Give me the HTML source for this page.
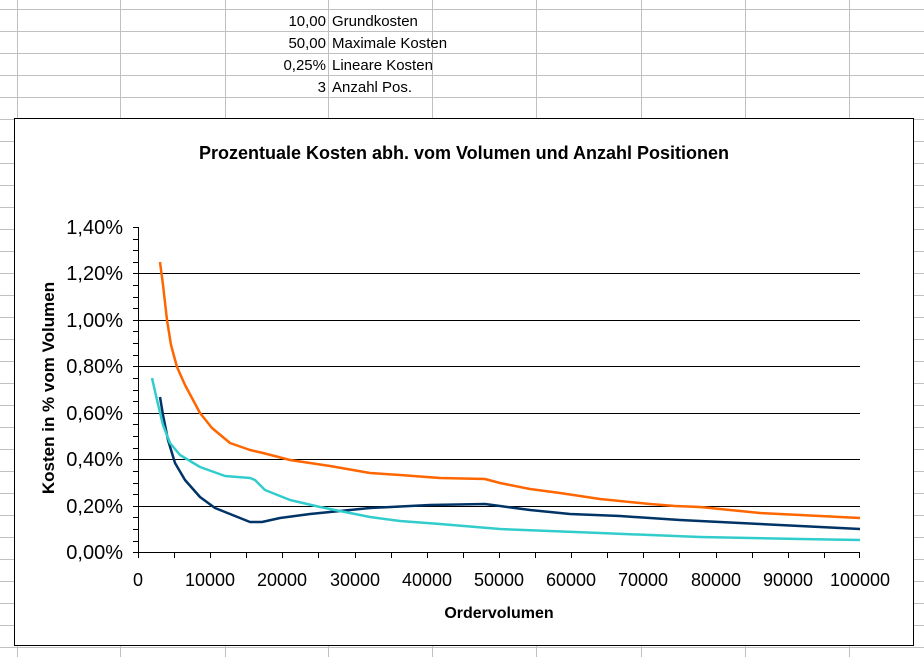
<!DOCTYPE html>
<html><head><meta charset="utf-8"><style>
html,body{margin:0;padding:0;background:#fff;}
svg{display:block;font-family:"Liberation Sans",Arial,sans-serif;}
</style></head><body>
<svg width="924" height="657" viewBox="0 0 924 657" xmlns="http://www.w3.org/2000/svg">
<g stroke="#c0c0c0" stroke-width="1">
<line x1="0" y1="9.5" x2="924" y2="9.5"/><line x1="0" y1="31.5" x2="924" y2="31.5"/>
<line x1="0" y1="53.5" x2="924" y2="53.5"/><line x1="0" y1="75.5" x2="924" y2="75.5"/>
<line x1="0" y1="97.5" x2="924" y2="97.5"/>
<line x1="0" y1="119.5" x2="924" y2="119.5"/><line x1="0" y1="141.5" x2="924" y2="141.5"/>
<line x1="0" y1="163.5" x2="924" y2="163.5"/><line x1="0" y1="185.5" x2="924" y2="185.5"/>
<line x1="0" y1="207.5" x2="924" y2="207.5"/><line x1="0" y1="229.5" x2="924" y2="229.5"/>
<line x1="0" y1="251.5" x2="924" y2="251.5"/><line x1="0" y1="273.5" x2="924" y2="273.5"/>
<line x1="0" y1="295.5" x2="924" y2="295.5"/><line x1="0" y1="317.5" x2="924" y2="317.5"/>
<line x1="0" y1="339.5" x2="924" y2="339.5"/><line x1="0" y1="361.5" x2="924" y2="361.5"/>
<line x1="0" y1="383.5" x2="924" y2="383.5"/><line x1="0" y1="405.5" x2="924" y2="405.5"/>
<line x1="0" y1="427.5" x2="924" y2="427.5"/><line x1="0" y1="449.5" x2="924" y2="449.5"/>
<line x1="0" y1="471.5" x2="924" y2="471.5"/><line x1="0" y1="493.5" x2="924" y2="493.5"/>
<line x1="0" y1="515.5" x2="924" y2="515.5"/><line x1="0" y1="537.5" x2="924" y2="537.5"/>
<line x1="0" y1="559.5" x2="924" y2="559.5"/><line x1="0" y1="581.5" x2="924" y2="581.5"/>
<line x1="0" y1="603.5" x2="924" y2="603.5"/><line x1="0" y1="625.5" x2="924" y2="625.5"/>
<line x1="0" y1="647.5" x2="924" y2="647.5"/>
<line x1="17.5" y1="0" x2="17.5" y2="657"/><line x1="120.5" y1="0" x2="120.5" y2="657"/>
<line x1="225.5" y1="0" x2="225.5" y2="657"/><line x1="328.5" y1="0" x2="328.5" y2="657"/>
<line x1="432.5" y1="0" x2="432.5" y2="657"/><line x1="536.5" y1="0" x2="536.5" y2="657"/>
<line x1="641.5" y1="0" x2="641.5" y2="657"/><line x1="745.5" y1="0" x2="745.5" y2="657"/>
<line x1="849.5" y1="0" x2="849.5" y2="657"/>
</g>
<g font-size="15" fill="#000">
<text x="326" y="26" text-anchor="end">10,00</text><text x="332" y="26">Grundkosten</text>
<text x="326" y="48" text-anchor="end">50,00</text><text x="332" y="48">Maximale Kosten</text>
<text x="326" y="70" text-anchor="end">0,25%</text><text x="332" y="70">Lineare Kosten</text>
<text x="326" y="92" text-anchor="end">3</text><text x="332" y="92">Anzahl Pos.</text>
</g>
<rect x="14.5" y="118.5" width="899" height="527" fill="#fff" stroke="#000" stroke-width="1"/>
<text x="464" y="159" font-size="18" font-weight="bold" text-anchor="middle">Prozentuale Kosten abh. vom Volumen und Anzahl Positionen</text>
<g stroke="#000" stroke-width="1">
<line x1="138" y1="273.5" x2="860" y2="273.5"/><line x1="138" y1="320.5" x2="860" y2="320.5"/>
<line x1="138" y1="366.5" x2="860" y2="366.5"/><line x1="138" y1="413.5" x2="860" y2="413.5"/>
<line x1="138" y1="459.5" x2="860" y2="459.5"/><line x1="138" y1="506.5" x2="860" y2="506.5"/>
<line x1="138.5" y1="227" x2="138.5" y2="552"/><line x1="138" y1="552.5" x2="860" y2="552.5"/>
</g>
<g stroke="#000" stroke-width="1">
<path d="M133 227.5h5M133 239.5h5M133 250.5h5M133 262.5h5M133 273.5h5M133 285.5h5M133 297.5h5M133 308.5h5M133 320.5h5M133 331.5h5M133 343.5h5M133 355.5h5M133 366.5h5M133 378.5h5M133 390.5h5M133 401.5h5M133 413.5h5M133 424.5h5M133 436.5h5M133 448.5h5M133 459.5h5M133 471.5h5M133 483.5h5M133 494.5h5M133 506.5h5M133 517.5h5M133 529.5h5M133 541.5h5M133 552.5h5"/>
<path d="M138.5 552v6M174.5 552v6M210.5 552v6M246.5 552v6M282.5 552v6M318.5 552v6M355.5 552v6M391.5 552v6M427.5 552v6M463.5 552v6M499.5 552v6M535.5 552v6M571.5 552v6M607.5 552v6M643.5 552v6M679.5 552v6M716.5 552v6M752.5 552v6M788.5 552v6M824.5 552v6M859.5 552v6"/>
</g>
<g font-size="20" text-anchor="end">
<text x="123" y="234">1,40%</text><text x="123" y="280">1,20%</text><text x="123" y="327">1,00%</text>
<text x="123" y="373">0,80%</text><text x="123" y="420">0,60%</text><text x="123" y="466">0,40%</text>
<text x="123" y="513">0,20%</text><text x="123" y="559">0,00%</text>
</g>
<g font-size="18" text-anchor="middle">
<text x="138" y="586">0</text><text x="210" y="586">10000</text><text x="282" y="586">20000</text>
<text x="355" y="586">30000</text><text x="427" y="586">40000</text><text x="499" y="586">50000</text>
<text x="571" y="586">60000</text><text x="643" y="586">70000</text><text x="716" y="586">80000</text>
<text x="788" y="586">90000</text><text x="860" y="586">100000</text>
</g>
<text x="499" y="618" font-size="16" font-weight="bold" text-anchor="middle">Ordervolumen</text>
<text transform="translate(54 388) rotate(-90)" font-size="17" font-weight="bold" text-anchor="middle">Kosten in % vom Volumen</text>
<g fill="none" stroke-width="2.5" stroke-linejoin="round">
<polyline stroke="#ff6600" points="160,262 163,285 167,320 171,345 177,367 185,385 200,413 212,428 230,443 250,450 263,453 290,460 330,466 370,473 400,475 440,478 485,479 500,483 530,489 560,493 600,499 650,504 675,506 700,507 760,513 800,515 860,518"/>
<polyline stroke="#003366" points="160,397 163,415 168,440 175,463 185,480 200,497 215,508 230,514 250,522 262,522 280,518 310,514 350,510 370,508 410,506 430,505 485,504 500,506 530,510 570,514 620,516 680,520 760,524 820,527 860,529"/>
<polyline stroke="#33cccc" points="152,378 157,400 163,425 170,443 180,455 200,467 225,476 250,478 255,480 265,490 290,500 320,507 360,515 370,517 400,521 440,524 500,529 600,533 700,537 800,539 860,540"/>
</g>
</svg>
</body></html>
